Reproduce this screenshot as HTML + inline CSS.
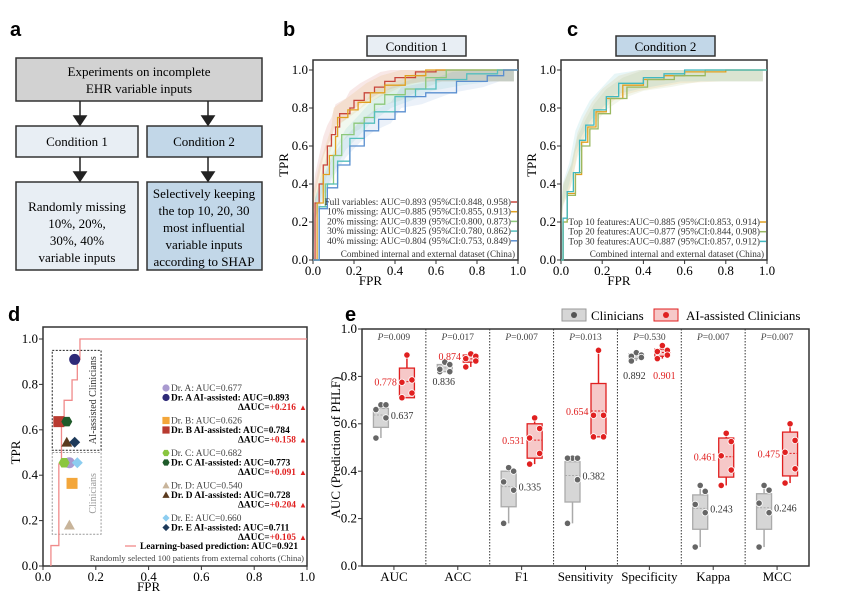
<!DOCTYPE html>
<html><head><meta charset="utf-8"><style>
body{margin:0;background:#fff;}
svg{display:block;font-family:"Liberation Serif",serif;}
.lab{font-family:"Liberation Sans",sans-serif;font-weight:bold;font-size:20px;}
</style></head><body>
<svg id="fig" width="850" height="592" viewBox="0 0 850 592" xmlns="http://www.w3.org/2000/svg">
<text class="lab" x="10" y="36">a</text>
<text class="lab" x="283" y="36">b</text>
<text class="lab" x="567" y="36">c</text>
<text class="lab" x="8" y="321">d</text>
<text class="lab" x="345" y="321">e</text>
<g font-size="13" text-anchor="middle">
<rect x="16" y="58" width="246" height="43" fill="#d2d2d2" stroke="#333" stroke-width="1.5"/>
<text x="139" y="76">Experiments on incomplete</text>
<text x="139" y="93">EHR variable inputs</text>
<rect x="16" y="126" width="122" height="31" fill="#e8eef4" stroke="#333" stroke-width="1.5"/>
<text x="77" y="146">Condition 1</text>
<rect x="147" y="126" width="115" height="31" fill="#c2d7e8" stroke="#333" stroke-width="1.5"/>
<text x="204" y="146">Condition 2</text>
<rect x="16" y="182" width="122" height="88" fill="#e8eef4" stroke="#333" stroke-width="1.5"/>
<text x="77" y="211">Randomly missing</text><text x="77" y="228">10%, 20%,</text><text x="77" y="245">30%, 40%</text><text x="77" y="262">variable inputs</text>
<rect x="147" y="182" width="115" height="88" fill="#c2d7e8" stroke="#333" stroke-width="1.5"/>
<text x="204" y="198">Selectively keeping</text><text x="204" y="215">the top 10, 20, 30</text><text x="204" y="232">most influential</text><text x="204" y="249">variable inputs</text><text x="204" y="266">according to SHAP</text>
<g stroke="#222" stroke-width="1.5" fill="#222">
<line x1="80" y1="101" x2="80" y2="118"/><polygon points="74,116 86,116 80,125"/>
<line x1="208" y1="101" x2="208" y2="118"/><polygon points="202,116 214,116 208,125"/>
<line x1="80" y1="157" x2="80" y2="174"/><polygon points="74,172 86,172 80,181"/>
<line x1="208" y1="157" x2="208" y2="174"/><polygon points="202,172 214,172 208,181"/>
</g></g>
<g id="pb"></g>
<g id="pc"></g>
<g id="pd"></g>
<g id="pe"></g>
</svg>
<script>
const rocB_full=[[0,0],[0.01,0.3],[0.03,0.4],[0.05,0.5],[0.07,0.6],[0.09,0.66],[0.11,0.7],[0.13,0.77],[0.18,0.8],[0.2,0.84],[0.25,0.88],[0.3,0.91],[0.35,0.94],[0.4,0.96],[0.5,0.99],[0.6,1],[1,1]];
const rocB_10=[[0,0],[0.02,0.3],[0.05,0.45],[0.08,0.55],[0.11,0.65],[0.12,0.75],[0.17,0.79],[0.22,0.83],[0.28,0.88],[0.35,0.92],[0.45,0.97],[0.55,1],[1,1]];
const rocB_20=[[0,0],[0.03,0.28],[0.06,0.4],[0.1,0.55],[0.14,0.66],[0.2,0.72],[0.25,0.75],[0.3,0.82],[0.35,0.87],[0.45,0.9],[0.55,0.96],[0.65,1],[1,1]];
const rocB_30=[[0,0],[0.03,0.28],[0.07,0.4],[0.12,0.52],[0.18,0.64],[0.25,0.72],[0.3,0.78],[0.4,0.86],[0.5,0.9],[0.6,0.95],[0.75,0.98],[0.9,1],[1,1]];
const rocB_40=[[0,0],[0.03,0.27],[0.07,0.38],[0.12,0.5],[0.18,0.6],[0.25,0.68],[0.32,0.74],[0.4,0.78],[0.45,0.86],[0.55,0.88],[0.7,0.94],[0.85,0.97],[0.93,1],[1,1]];
const legB=["Full variables: AUC=0.893 (95%CI:0.848, 0.958)","10% missing: AUC=0.885 (95%CI:0.855, 0.913)","20% missing: AUC=0.839 (95%CI:0.800, 0.873)","30% missing: AUC=0.825 (95%CI:0.780, 0.862)","40% missing: AUC=0.804 (95%CI:0.753, 0.849)"];
const rocC_10=[[0,0],[0.01,0.2],[0.03,0.35],[0.07,0.45],[0.1,0.62],[0.13,0.7],[0.17,0.78],[0.22,0.85],[0.3,0.92],[0.4,0.95],[0.5,0.97],[0.6,0.99],[0.8,1],[1,1]];
const rocC_20=[[0,0],[0.01,0.2],[0.03,0.34],[0.07,0.46],[0.1,0.6],[0.14,0.69],[0.18,0.77],[0.24,0.85],[0.32,0.91],[0.42,0.95],[0.55,0.97],[0.7,1],[1,1]];
const rocC_30=[[0,0],[0.01,0.22],[0.03,0.36],[0.06,0.46],[0.09,0.63],[0.12,0.71],[0.16,0.79],[0.22,0.86],[0.28,0.93],[0.4,0.96],[0.5,0.98],[0.6,1],[1,1]];
const legC=["Top 10 features:AUC=0.885 (95%CI:0.853, 0.914)","Top 20 features:AUC=0.877 (95%CI:0.844, 0.908)","Top 30 features:AUC=0.887 (95%CI:0.857, 0.912)"];
const ticks01=["0.0","0.2","0.4","0.6","0.8","1.0"];
const rocD=[[0.03,0],[0.03,0.09],[0.06,0.09],[0.06,0.45],[0.07,0.45],[0.07,0.64],[0.08,0.64],[0.08,0.73],[0.11,0.73],[0.11,0.82],[0.13,0.82],[0.13,0.91],[0.14,0.91],[0.14,1],[1,1]];
const docFpr=[0.1,0.12,0.11,0.06,0.08,0.09,0.1,0.09,0.13,0.12];
const docTpr=[0.455,0.91,0.364,0.636,0.455,0.636,0.18,0.545,0.455,0.545];
const docLabels=["Dr. A: AUC=0.677","Dr. A AI-assisted: AUC=0.893","Dr. B: AUC=0.626","Dr. B AI-assisted: AUC=0.784","Dr. C: AUC=0.682","Dr. C AI-assisted: AUC=0.773","Dr. D: AUC=0.540","Dr. D AI-assisted: AUC=0.728","Dr. E: AUC=0.660","Dr. E AI-assisted: AUC=0.711"];
const deltaAUC=["+0.216","+0.158","+0.091","+0.204","+0.105"];
const metrics=["AUC","ACC","F1","Sensitivity","Specificity","Kappa","MCC"];
const pvals=["0.009","0.017","0.007","0.013","0.530","0.007","0.007"];
const clinPts=[[0.68,0.68,0.66,0.625,0.54],[0.86,0.85,0.82,0.82,0.83],[0.415,0.40,0.355,0.32,0.18],[0.455,0.455,0.455,0.364,0.18],[0.9,0.89,0.885,0.88,0.865],[0.34,0.315,0.26,0.225,0.08],[0.34,0.32,0.265,0.225,0.08]];
const aiPts=[[0.89,0.785,0.775,0.73,0.71],[0.895,0.885,0.875,0.865,0.84],[0.625,0.58,0.54,0.475,0.43],[0.91,0.636,0.636,0.545,0.545],[0.93,0.91,0.905,0.89,0.875],[0.56,0.525,0.465,0.405,0.34],[0.6,0.53,0.48,0.41,0.35]];
const clinBox=[[0.585,0.665],[0.82,0.85],[0.25,0.40],[0.27,0.44],[0.875,0.895],[0.155,0.30],[0.155,0.305]];
const aiBox=[[0.71,0.835],[0.86,0.89],[0.455,0.60],[0.545,0.77],[0.885,0.915],[0.375,0.54],[0.38,0.565]];
const clinMean=["0.637","0.836","0.335","0.382","0.892","0.243","0.246"];
const aiMean=["0.778","0.874","0.531","0.654","0.901","0.461","0.475"];
const clinMeanV=[0.637,0.836,0.335,0.382,0.892,0.243,0.246];
const aiMeanV=[0.778,0.874,0.531,0.654,0.901,0.461,0.475];

const NS="http://www.w3.org/2000/svg";
function mk(p,t,a,txt){const e=document.createElementNS(NS,t);for(const k in a)e.setAttribute(k,a[k]);if(txt!==undefined)e.textContent=txt;p.appendChild(e);return e;}
function scale(d0,d1,r0,r1){return v=>r0+(v-d0)/(d1-d0)*(r1-r0);}

function rocPanel(g,x0,x1,y0,y1,series,colors,legend,legY,foot,footY,title,titleFill,tx){
  const X=scale(0,1,x0,x1),Y=scale(0,1,y0,y1);
  const bx=mk(g,"rect",{x:x0,y:y1-10,width:x1-x0,height:y0-y1+10,fill:"#fff",stroke:"#333","stroke-width":1.5});
  
  
  const tb=mk(g,"rect",{x:tx,y:36,width:99,height:20,fill:titleFill,stroke:"#333","stroke-width":1.5});
  
  
  mk(g,"text",{x:tx+49.5,y:51,"text-anchor":"middle","font-size":13},title);
  ticks01.forEach((t,i)=>{const v=i/5;
    mk(g,"line",{x1:X(v),x2:X(v),y1:y0,y2:y0+4,stroke:"#333"});
    const xt=mk(g,"text",{x:X(v),y:y0+15,"text-anchor":"middle","font-size":13},t);
    
    
    mk(g,"line",{x1:x0-4,x2:x0,y1:Y(v),y2:Y(v),stroke:"#333"});
    const yt=mk(g,"text",{x:x0-5,y:Y(v)+4,"text-anchor":"end","font-size":13},t);
    
    
  });
  const xl=mk(g,"text",{x:(x0+x1)/2-45,y:y0+25,"text-anchor":"middle","font-size":13},"FPR");
  
  
  const yl=mk(g,"text",{x:0,y:0,"text-anchor":"middle","font-size":13,transform:`translate(${x0-25},${(y0+y1)/2}) rotate(-90)`},"TPR");
  
  
  series.forEach((s,i)=>{
    const up=s.map(p=>[p[0],Math.min(1,p[1]+0.05)]),dn=s.map(p=>[p[0],Math.max(0,p[1]-0.06)]).reverse();
    const band=mk(g,"polygon",{points:up.concat(dn).map(p=>X(Math.max(0,p[0]-0.02))+","+Y(p[1])).join(" "),fill:colors[i],opacity:0.12});
    
    
  });
  series.forEach((s,i)=>{
    let pts=[];s.forEach((p,j)=>{if(j>0)pts.push([p[0],s[j-1][1]]);pts.push(p);});
    const l=mk(g,"polyline",{points:pts.map(p=>X(p[0])+","+Y(p[1])).join(" "),fill:"none",stroke:colors[i],"stroke-width":1.3});
    
    
  });
  legend.forEach((t,i)=>{
    const ty=legY+i*9.7;
    const lt=mk(g,"text",{x:x1-7,y:ty,"text-anchor":"end","font-size":9.4,fill:"#333"},t);
    
    
    mk(g,"line",{x1:x1-7,x2:x1-1,y1:ty-3,y2:ty-3,stroke:colors[i],"stroke-width":1.5});
  });
  mk(g,"text",{x:x1-3,y:footY,"text-anchor":"end","font-size":9.2,fill:"#333"},foot);
}
rocPanel(document.getElementById("pb"),313,518,260,70,[rocB_full,rocB_10,rocB_20,rocB_30,rocB_40],["#c8453a","#e0a020","#8cc87a","#55bfbd","#5a8fd0"],legB,205,"Combined internal and external dataset (China)",257,"Condition 1","#e8eef4",367);
rocPanel(document.getElementById("pc"),561,767,260,70,[rocC_10,rocC_20,rocC_30],["#e0a020","#9ab860","#40b8c0"],legC,225,"Combined internal and external dataset (China)",257,"Condition 2","#c2d7e8",616);

// panel d
(function(){
  const g=document.getElementById("pd");const x0=43,x1=307,y0=566,y1=339;
  const X=scale(0,1,x0,x1),Y=scale(0,1,y0,y1);
  mk(g,"rect",{x:x0,y:327,width:x1-x0,height:y0-327,fill:"#fff",stroke:"#333","stroke-width":1.5});
  ticks01.forEach((t,i)=>{const v=i/5;
    mk(g,"line",{x1:X(v),x2:X(v),y1:y0,y2:y0+4,stroke:"#333"});
    mk(g,"text",{x:X(v),y:y0+15,"text-anchor":"middle","font-size":13},t);
    mk(g,"line",{x1:x0-4,x2:x0,y1:Y(v),y2:Y(v),stroke:"#333"});
    mk(g,"text",{x:x0-5,y:Y(v)+4,"text-anchor":"end","font-size":13},t);
  });
  mk(g,"text",{x:X(0.4),y:y0+25,"text-anchor":"middle","font-size":13},"FPR");
  mk(g,"text",{x:0,y:0,"text-anchor":"middle","font-size":13,transform:`translate(20,${(y0+y1)/2}) rotate(-90)`},"TPR");
  mk(g,"rect",{x:X(0.035),y:Y(0.95),width:X(0.22)-X(0.035),height:Y(0.51)-Y(0.95),fill:"none",stroke:"#222","stroke-dasharray":"2,1.5"});
  mk(g,"rect",{x:X(0.035),y:Y(0.5),width:X(0.22)-X(0.035),height:Y(0.14)-Y(0.5),fill:"none",stroke:"#999","stroke-dasharray":"2,1.5"});
  mk(g,"text",{x:0,y:0,"text-anchor":"middle","font-size":10,fill:"#333",transform:`translate(${X(0.2)},${Y(0.73)}) rotate(-90)`},"AI-assisted Clinicians");
  mk(g,"text",{x:0,y:0,"text-anchor":"middle","font-size":10,fill:"#999",transform:`translate(${X(0.2)},${Y(0.32)}) rotate(-90)`},"Clinicians");
  const l=mk(g,"polyline",{points:rocD.map(p=>X(p[0])+","+Y(p[1])).join(" "),fill:"none",stroke:"#f08a8a","stroke-width":1.3});
  
  
  const cols=["#a99ad0","#2e2a78","#f3a63a","#b83a30","#8ac640","#1e5a2a","#c8b49a","#5a3a1e","#8ccdf0","#1e3a5a"];
  const shapes=["c","c","s","s","h","h","t","t","d","d"];
  function shape(g,sh,cx,cy,c,r){
    if(sh=="c")return mk(g,"circle",{cx,cy,r,fill:c});
    if(sh=="s")return mk(g,"rect",{x:cx-r,y:cy-r,width:2*r,height:2*r,fill:c});
    let pts;
    if(sh=="t")pts=[[0,-r],[r,r*0.8],[-r,r*0.8]];
    else if(sh=="d")pts=[[0,-r],[r,0],[0,r],[-r,0]];
    else pts=[0,1,2,3,4,5].map(k=>[r*Math.cos(k*Math.PI/3),r*Math.sin(k*Math.PI/3)]);
    return mk(g,"polygon",{points:pts.map(p=>(cx+p[0])+","+(cy+p[1])).join(" "),fill:c});
  }
  docFpr.forEach((f,i)=>{const s=shape(g,shapes[i],X(f),Y(docTpr[i]),cols[i],5.5);
    
    });
  for(let k=0;k<5;k++){
    const by=391+k*32.5;
    shape(g,shapes[2*k],166,by-3,cols[2*k],3.6);
    mk(g,"text",{x:171,y:by,"font-size":9.4,fill:"#444"},docLabels[2*k]);
    shape(g,shapes[2*k+1],166,by+6.5,cols[2*k+1],3.6);
    mk(g,"text",{x:171,y:by+9.5,"font-size":9.4,"font-weight":"bold"},docLabels[2*k+1]);
    const t=mk(g,"text",{x:296,y:by+19,"text-anchor":"end","font-size":9.4,"font-weight":"bold"},"\u0394AUC=");
    mk(t,"tspan",{fill:"#e02020"},deltaAUC[k]);
    mk(g,"text",{x:299,y:by+19,"font-size":8,fill:"#e02020"},"\u25B2");
  }
  mk(g,"line",{x1:125,x2:136,y1:546,y2:546,stroke:"#f08a8a","stroke-width":1.3});
  mk(g,"text",{x:140,y:549,"font-size":9.4,"font-weight":"bold"},"Learning-based prediction: AUC=0.921");
  mk(g,"text",{x:304,y:561,"text-anchor":"end","font-size":8.6,fill:"#444"},"Randomly selected 100 patients from external cohorts (China)");
})();

// panel e
(function(){
  const g=document.getElementById("pe");const x0=362,x1=809,y0=566,y1=329;
  const Y=scale(0,1,y0,y1);const cw=(x1-x0)/metrics.length;
  mk(g,"rect",{x:x0,y:y1,width:x1-x0,height:y0-y1,fill:"#fff",stroke:"#333","stroke-width":1.5});
  ticks01.forEach((t,i)=>{const v=i/5;
    mk(g,"line",{x1:x0-4,x2:x0,y1:Y(v),y2:Y(v),stroke:"#333"});
    mk(g,"text",{x:x0-5,y:Y(v)+4,"text-anchor":"end","font-size":13},t);});
  const yl=mk(g,"text",{x:0,y:0,"text-anchor":"middle","font-size":13,transform:`translate(340,${(y0+y1)/2}) rotate(-90)`},"AUC (Prediction of PHLF)");
  
  
  mk(g,"rect",{x:562,y:309,width:24,height:12,fill:"#d6d6d6",stroke:"#999"});mk(g,"circle",{cx:574,cy:315,r:3,fill:"#555"});
  mk(g,"text",{x:591,y:320,"font-size":13},"Clinicians");
  mk(g,"rect",{x:654,y:309,width:24,height:12,fill:"#f6c8c8",stroke:"#e02020"});mk(g,"circle",{cx:666,cy:315,r:3,fill:"#e02020"});
  mk(g,"text",{x:686,y:320,"font-size":13},"AI-assisted Clinicians");
  const jit=[0,5,-5,5,-5];
  metrics.forEach((m,i)=>{
    const cx=x0+cw*(i+0.5);
    if(i>0)mk(g,"line",{x1:x0+cw*i,x2:x0+cw*i,y1:y1,y2:y0,stroke:"#333","stroke-dasharray":"1.5,1.5"});
    mk(g,"line",{x1:cx,x2:cx,y1:y0,y2:y0+4,stroke:"#333"});
    const ml=mk(g,"text",{x:cx,y:581,"text-anchor":"middle","font-size":13},m);
    
    
    const pt=mk(g,"text",{x:cx,y:340,"text-anchor":"middle","font-size":9.5,fill:"#444"},"");
    mk(pt,"tspan",{"font-style":"italic"},"P");pt.appendChild(document.createTextNode("="+pvals[i]));
    [[clinPts,clinBox,clinMeanV,clinMean,-13,"#d6d6d6","#aaa","#666","#333"],[aiPts,aiBox,aiMeanV,aiMean,13,"#f6c8c8","#e02020","#e02020","#e02020"]].forEach(([P,B,MV,ML,off,fill,st,dot,tc])=>{
      const bx=cx+off,pts=P[i],lo=Math.min(...pts),hi=Math.max(...pts);
      mk(g,"line",{x1:bx,x2:bx,y1:Y(lo),y2:Y(hi),stroke:st,"stroke-width":1.5});
      const r=mk(g,"rect",{x:bx-7.5,y:Y(B[i][1]),width:15,height:Y(B[i][0])-Y(B[i][1]),fill:fill,stroke:st,"stroke-width":1.3});
      
      
      mk(g,"line",{x1:bx-7.5,x2:bx+7.5,y1:Y(MV[i]),y2:Y(MV[i]),stroke:st,"stroke-dasharray":"2,1.5"});
      pts.forEach((v,k)=>{const c=mk(g,"circle",{cx:bx+jit[k],cy:Y(v),r:3.2,fill:dot,stroke:"#fff","stroke-width":0.8});
        
        });
      let tx,ty=Y(MV[i])+4,anch;
      if(off<0){tx=bx+10;anch="start";}else{tx=bx-10;anch="end";}
      if(i==1){ if(off<0){tx=bx-1;ty=Y(0.78)+4;anch="middle";}else{tx=bx-21;ty=Y(0.87);anch="middle";} }
      if(i==4){ tx=off<0?bx-2:bx+2;ty=Y(0.79);anch="middle"; }
      mk(g,"text",{x:tx,y:ty,"text-anchor":anch,"font-size":10,fill:tc},ML[i]);
    });
  });
})();
</script>
</body></html>
